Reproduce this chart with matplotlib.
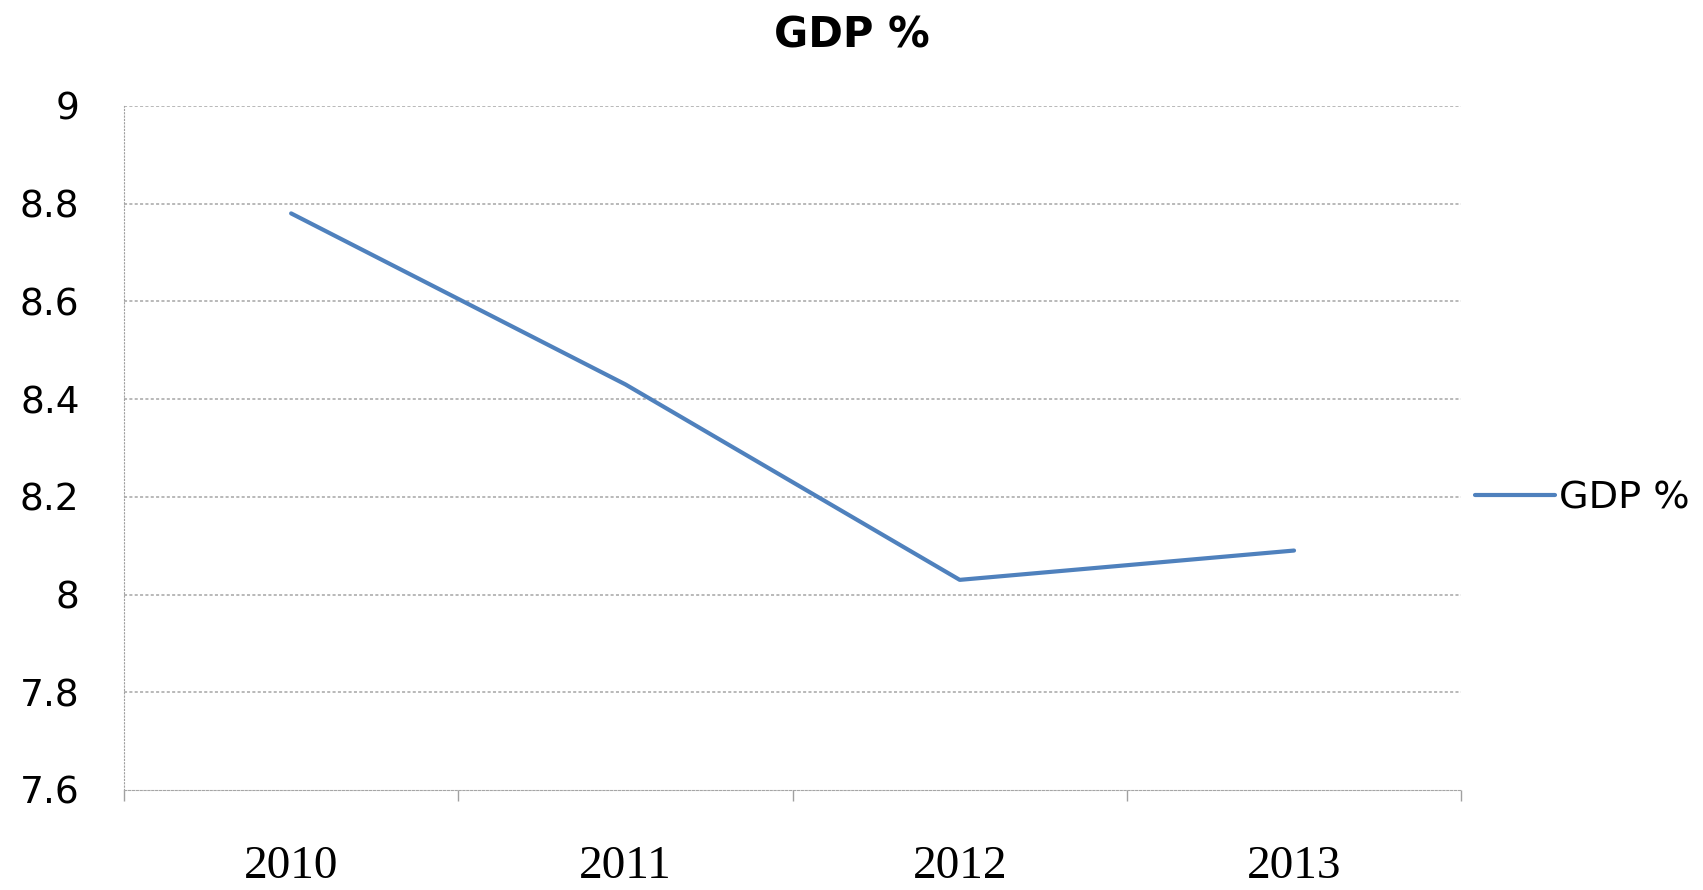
import matplotlib
matplotlib.use("Agg")
import matplotlib.pyplot as plt
import numpy as np

years = ["2010", "2011", "2012", "2013"]
gdp = [8.78, 8.43, 8.03, 8.09]
yticks = [7.6, 7.8, 8.0, 8.2, 8.4, 8.6, 8.8, 9.0]
ytick_labels = ["7.6", "7.8", "8", "8.2", "8.4", "8.6", "8.8", "9"]

fig = plt.figure(figsize=(17.03, 8.9), dpi=100)
ax = fig.add_axes([0.0728, 0.1124, 0.858 - 0.0728, 0.881 - 0.1124])

x = np.arange(len(years))
line, = ax.plot(x, gdp, color="#4F81BD", lw=3.0, solid_capstyle="round", label="GDP %")

ax.set_xlim(-0.5, len(years) - 0.5)
ax.set_ylim(7.6, 9.0)
ax.set_yticks(yticks)
ax.set_yticklabels(ytick_labels)
ax.set_xticks(x)
ax.set_xticklabels(years, fontfamily="Liberation Serif")
ax.set_xticks(np.arange(-0.5, len(years), 1.0), minor=True)

ax.tick_params(axis="x", which="major", length=0, pad=40, labelsize=34)
ax.tick_params(axis="x", which="minor", length=8, color="#A0A0A0", width=1)
ax.tick_params(axis="y", length=0, pad=32, labelsize=27)

for yv in yticks[1:]:
    ax.axhline(yv, color="#A6A6A6", lw=1.1, ls=(0, (2, 1.5)), zorder=0)

for s in ["top", "right"]:
    ax.spines[s].set_visible(False)
ax.spines["left"].set_color("#A0A0A0")
ax.spines["left"].set_linestyle((0, (1, 2)))
ax.spines["bottom"].set_color("#A6A6A6")
ax.spines["bottom"].set_linestyle((0, (2, 1.5)))

fig.text(0.5, 0.96, "GDP %", ha="center", va="center", fontsize=30, fontweight="bold")

fig.legend(handles=[line], labels=["GDP %"], loc="center left",
           bbox_to_anchor=(0.857, 0.44), frameon=False, fontsize=27.5,
           handlelength=2.1, handletextpad=0.1, borderaxespad=0)

fig.savefig("out.png", dpi=100)
